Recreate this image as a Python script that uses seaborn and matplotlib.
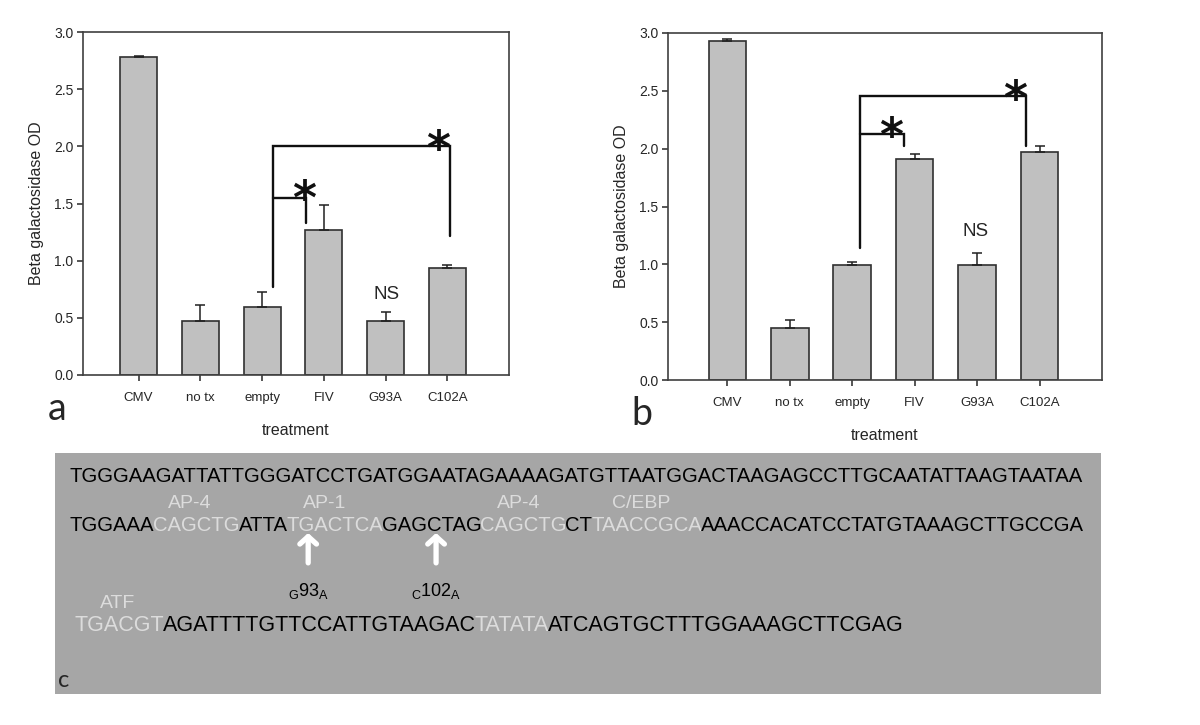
import numpy as np
import pandas as pd
import matplotlib.pyplot as plt
import seaborn as sns

# Data
treatments = ["CMV", "no tx", "empty", "FIV", "G93A", "C102A"]
od_a = [2.785, 0.475, 0.598, 1.268, 0.475, 0.933]
err_a = [0.005, 0.135, 0.125, 0.22, 0.08, 0.03]
od_b = [2.927, 0.447, 0.992, 1.909, 0.995, 1.972]
err_b = [0.02, 0.072, 0.03, 0.045, 0.105, 0.055]

# sequence line segments: (text, highlighted)
seq_line1 = [("TGGGAAGATTATTGGGATCCTGATGGAATAGAAAAGATGTTAATGGACTAAGAGCCTTGCAATATTAAGTAATAA", False)]
seq_line2 = [("TGGAAA", False), ("CAGCTG", True), ("ATTA", False), ("TGACTCA", True),
             ("GAGCTAG", False), ("CAGCTG", True), ("CT", False), ("TAACCGCA", True),
             ("AAACCACATCCTATGTAAAGCTTGCCGA", False)]
seq_line3 = [("TGACGT", True), ("AGATTTTGTTCCATTGTAAGAC", False), ("TATATA", True),
             ("ATCAGTGCTTTGGAAAGCTTCGAG", False)]
# (line, segment index, label, x fraction along segment)
site_labels = [(2, 1, "AP-4", 0.42), (2, 3, "AP-1", 0.40), (2, 5, "AP-4", 0.44),
               (2, 7, "C/EBP", 0.45), (3, 0, "ATF", 0.48)]
mutations = [(3, r"${}_{G}93_{A}$", 0.227), (4, r"${}_{C}102_{A}$", 0.545)]

# Set-up
# --------------
sns.set_theme(style="ticks")
plt.rcParams['font.family'] = ['Liberation Sans', 'DejaVu Sans']
plt.rcParams['mathtext.default'] = 'regular'

BAR = "#c0c0c0"
EDGE = "#303030"
SEQ_BG = "#a6a6a6"
LIGHT = "#dcdcdc"

fig = plt.figure(figsize=(12, 7.25), dpi=100)
ax_a = fig.add_axes([83/1200, 1-375/725, 426/1200, 343/725])
ax_b = fig.add_axes([668/1200, 1-380/725, 434/1200, 347/725])


def bar_panel(ax, vals, errs, letter, xlim):
    df = pd.DataFrame({"treatment": treatments, "od": vals})
    sns.barplot(df, x="treatment", y="od", color=BAR, saturation=1,
                edgecolor=EDGE, linewidth=1.2, width=0.6, ax=ax)
    ax.errorbar(np.arange(len(vals)), vals, yerr=[np.zeros(len(errs)), errs],
                fmt="none", ecolor="#202020", elinewidth=1.1, capsize=3.5, capthick=1.1)
    ax.set_xlim(*xlim)
    ax.set_ylim(0, 3.0)
    ax.set_yticks(np.arange(0, 3.01, 0.5))
    ax.set_yticklabels([f"{v:.1f}" for v in np.arange(0, 3.01, 0.5)], fontsize=10)
    ax.tick_params(axis="x", labelsize=9.5, length=4, pad=8, color="#404040")
    ax.tick_params(axis="y", length=4, pad=3, color="#404040")
    for s in ax.spines.values():
        s.set_color("#404040")
        s.set_linewidth(1.2)
    ax.set_ylabel("Beta galactosidase OD", fontsize=11.5, labelpad=7)
    ax.set_xlabel("treatment", fontsize=11.5, labelpad=14)
    ax.text(-0.06, -0.13, letter, transform=ax.transAxes, fontsize=27,
            family=["Lato", "DejaVu Sans"], ha="center", va="baseline")


def bracket(ax, x1, y1, x2, y2, y3):
    ax.plot([x1, x1, x2, x2], [y1, y2, y2, y3], color="#101010", lw=1.7,
            solid_joinstyle="miter")


def star(ax, x, y):
    ax.annotate("*", xy=(x, y), xytext=(0, -19), textcoords="offset points",
                ha="center", va="baseline", fontsize=33, fontweight="bold",
                family="DejaVu Sans", color="#101010")


bar_panel(ax_a, od_a, err_a, "a", (-0.9, 6.0))
bracket(ax_a, 2.17, 0.77, 5.05, 2.0, 1.22)
bracket(ax_a, 2.17, 1.55, 2.72, 1.55, 1.33)
star(ax_a, 2.68, 1.64)
star(ax_a, 4.85, 2.08)
ax_a.text(4.02, 0.70, "NS", ha="center", va="center", fontsize=13.5)

bar_panel(ax_b, od_b, err_b, "b", (-0.95, 6.0))
bracket(ax_b, 2.12, 1.14, 4.79, 2.457, 2.02)
bracket(ax_b, 2.12, 2.128, 2.83, 2.128, 2.02)
star(ax_b, 2.63, 2.21)
star(ax_b, 4.6, 2.53)
ax_b.text(3.97, 1.28, "NS", ha="center", va="center", fontsize=13.5)

# Sequence panel
# --------------
ax_c = fig.add_axes([55/1200, 1-694/725, 1046/1200, 241/725])
ax_c.set_facecolor(SEQ_BG)
ax_c.set_xticks([])
ax_c.set_yticks([])
for s in ax_c.spines.values():
    s.set_visible(False)


def seq_line(segments, x, y, fs):
    texts = []
    prev = None
    for seg, hi in segments:
        col = LIGHT if hi else "black"
        if prev is None:
            t = ax_c.text(x, y, seg, transform=ax_c.transAxes, fontsize=fs,
                          color=col, ha="left", va="baseline")
        else:
            # chain on the right edge of the previous segment
            t = ax_c.annotate(seg, xy=(1, 0), xycoords=prev, xytext=(-0.9, 0),
                              textcoords="offset points", fontsize=fs,
                              color=col, ha="left", va="bottom")
        texts.append(t)
        prev = t
    return texts


line_texts = {1: seq_line(seq_line1, 0.0143, 0.881, 14.6),
              2: seq_line(seq_line2, 0.0143, 0.675, 14.6),
              3: seq_line(seq_line3, 0.019, 0.262, 15.5)}

for line, idx, lab, frac in site_labels:
    ybase = 0.773 if line == 2 else 0.357
    ax_c.annotate(lab, xy=(frac, ybase), xycoords=(line_texts[line][idx], "axes fraction"),
                  ha="center", va="baseline", fontsize=14, color=LIGHT)

for idx, lab, frac in mutations:
    seg = line_texts[2][idx]
    ax_c.annotate("", xy=(frac, 0.668), xycoords=(seg, "axes fraction"),
                  xytext=(frac, 0.544), textcoords=(seg, "axes fraction"),
                  arrowprops=dict(arrowstyle="->, head_width=0.5, head_length=0.45",
                                  color="white", lw=3.8, shrinkA=0, shrinkB=0))
    ax_c.annotate(lab, xy=(frac, 0.407), xycoords=(seg, "axes fraction"),
                  ha="center", va="baseline", fontsize=13, color="black")

ax_c.text(0.003, 0.03, "c", transform=ax_c.transAxes, fontsize=17,
          family=["Lato", "DejaVu Sans"], ha="left", va="baseline")

# Rendering
# --------------
fig.savefig("out.png", dpi=100, facecolor="white")
